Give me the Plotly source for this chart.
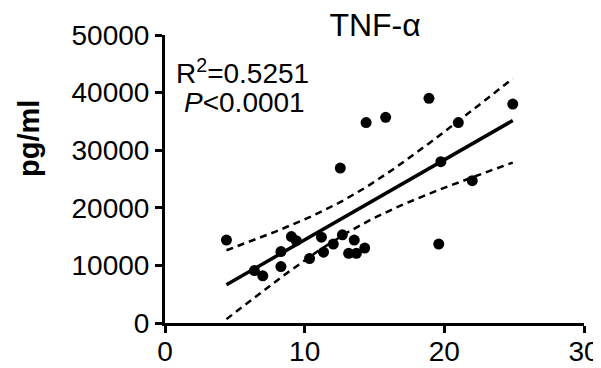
import numpy as np
import plotly.graph_objects as go

# Data
x_vals = [4.4, 6.4, 7.0, 8.3, 8.3, 9.05, 9.4, 10.35, 11.2, 11.35, 12.05, 12.55, 12.7,
          13.15, 13.55, 13.7, 14.3, 14.4, 15.8, 18.9, 19.6, 19.75, 21.0, 22.0, 24.9]
y_vals = [14400, 9100, 8200, 12400, 9800, 15000, 14300, 11200, 14900, 12300, 13700, 26900, 15300,
          12100, 14400, 12100, 13000, 34800, 35700, 39000, 13700, 28000, 34800, 24700, 38000]
x_ticks = [0, 10, 20, 30]
y_ticks = [0, 10000, 20000, 30000, 40000, 50000]
y_tick_labels = ["0", "10000", "20000", "30000", "40000", "50000"]
title_text = "TNF-α"
y_label = "pg/ml"
r2_text = "R<sup>2</sup>=0.5251"
p_text = "<i>P</i>&lt;0.0001"

x = np.array(x_vals, dtype=float)
y = np.array(y_vals, dtype=float)
n = len(x)
slope, intercept = np.polyfit(x, y, 1)
resid = y - (slope * x + intercept)
s = np.sqrt(np.sum(resid ** 2) / (n - 2))
t_crit = 2.069  # t(0.975, df=23)
xf = np.linspace(x.min(), x.max(), 100)
yf = slope * xf + intercept
se = s * np.sqrt(1 / n + (xf - x.mean()) ** 2 / np.sum((x - x.mean()) ** 2))
upper = yf + t_crit * se
lower = yf - t_crit * se

fig = go.Figure()
fig.add_trace(go.Scatter(x=xf, y=upper, mode="lines",
                         line=dict(color="black", width=2.5, dash="7px,5px"), hoverinfo="skip"))
fig.add_trace(go.Scatter(x=xf, y=lower, mode="lines",
                         line=dict(color="black", width=2.5, dash="7px,5px"), hoverinfo="skip"))
fig.add_trace(go.Scatter(x=xf, y=yf, mode="lines",
                         line=dict(color="black", width=3.5), hoverinfo="skip"))
fig.add_trace(go.Scatter(x=x, y=y, mode="markers",
                         marker=dict(color="black", size=11)))

font_family = "Liberation Sans, Arial, sans-serif"
# page body has an 8px margin, so the figure is 593x360 placed at (8, 8)
fig.update_layout(
    width=593, height=360,
    margin=dict(l=157, r=17, t=27, b=45, autoexpand=False),
    paper_bgcolor="white", plot_bgcolor="white",
    showlegend=False,
    font=dict(family=font_family, color="black", size=26),
    title=dict(text=title_text, x=0.619, xanchor="center", y=0.953, yanchor="middle",
               xref="container", yref="container", font=dict(size=32, family=font_family)),
    xaxis=dict(range=[0, 30], tickvals=x_ticks, showgrid=False, zeroline=False,
               showline=True, linecolor="black", linewidth=3, automargin=False,
               ticks="outside", ticklen=7, tickwidth=3, tickcolor="black",
               ticklabelstandoff=-6,
               tickfont=dict(size=28), fixedrange=True),
    yaxis=dict(range=[0, 50000], tickvals=y_ticks, ticktext=y_tick_labels,
               showgrid=False, zeroline=False, automargin=False,
               showline=True, linecolor="black", linewidth=3,
               ticks="outside", ticklen=7, tickwidth=3, tickcolor="black",
               tickfont=dict(size=28), fixedrange=True),
    annotations=[
        dict(text="<b>" + y_label + "</b>", xref="paper", yref="paper", x=-0.325, y=0.642,
             xanchor="center", yanchor="middle", textangle=-90, showarrow=False,
             font=dict(size=29)),
        dict(text=r2_text, xref="paper", yref="paper", x=0.021, y=0.872,
             xanchor="left", yanchor="middle", showarrow=False, height=29,
             font=dict(size=28)),
        dict(text=p_text, xref="paper", yref="paper", x=0.041, y=0.767,
             xanchor="left", yanchor="middle", showarrow=False, height=29,
             font=dict(size=28)),
    ],
)
fig.write_html("out.html")
